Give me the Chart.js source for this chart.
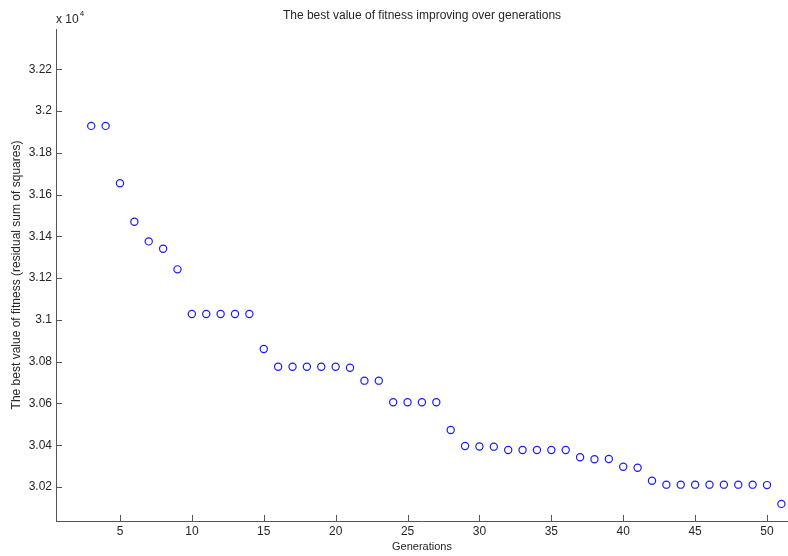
<!DOCTYPE html>
<html>
<head>
<meta charset="utf-8">
<script src="https://cdn.jsdelivr.net/npm/chart.js@4.4.0/dist/chart.umd.min.js"></script>
<style>
  html, body { margin: 0; padding: 0; background: #ffffff; }
  canvas { display: block; }
</style>
</head>
<body>
<canvas id="fitnessChart" width="788" height="556"></canvas>
<script>
// Generation index of each recorded best value
const generations = [3, 4, 5, 6, 7, 8, 9, 10, 11, 12, 13, 14, 15, 16, 17, 18, 19, 20, 21, 22, 23, 24, 25, 26, 27,
  28, 29, 30, 31, 32, 33, 34, 35, 36, 37, 38, 39, 40, 41, 42, 43, 44, 45, 46, 47, 48, 49, 50, 51];

// Best fitness (residual sum of squares) at each generation
const bestFitness = [31929, 31929, 31654, 31470, 31376, 31341, 31242, 31028, 31028, 31028, 31028, 31028,
  30861, 30776, 30776, 30776, 30776, 30776, 30771, 30709, 30709, 30606, 30606, 30606, 30606,
  30473, 30396, 30394, 30393, 30377, 30377, 30377, 30377, 30377, 30342, 30333, 30334, 30297, 30292,
  30230, 30211, 30211, 30211, 30211, 30211, 30211, 30211, 30209, 30119];

// Axis tick positions
const xTicks = [5, 10, 15, 20, 25, 30, 35, 40, 45, 50];
const yTicks = [30200, 30400, 30600, 30800, 31000, 31200, 31400, 31600, 31800, 32000, 32200];

// Axis limits
const xLimits = [0.55, 51.46];
const yLimits = [30037, 32393];

const FONT = '"Liberation Sans", Arial, Helvetica, sans-serif';
const TEXT = '#262626';
const AXIS = '#555555';

// Tick marks pointing into the plot, plus the "x 10^4" multiplier above the y axis
const innerTicks = {
  id: 'innerTicks',
  afterDraw(chart) {
    const { ctx, chartArea: a, scales: { x, y } } = chart;
    ctx.save();
    ctx.strokeStyle = AXIS;
    ctx.lineWidth = 1;
    ctx.beginPath();
    xTicks.forEach(v => {
      const px = Math.round(x.getPixelForValue(v)) + 0.5;
      ctx.moveTo(px, a.bottom);
      ctx.lineTo(px, a.bottom - 6);
    });
    yTicks.forEach(v => {
      const py = Math.round(y.getPixelForValue(v)) + 0.5;
      ctx.moveTo(a.left, py);
      ctx.lineTo(a.left + 6, py);
    });
    ctx.stroke();

    ctx.fillStyle = TEXT;
    ctx.textBaseline = 'alphabetic';
    ctx.textAlign = 'left';
    ctx.font = '12px ' + FONT;
    const base = 'x 10';
    ctx.fillText(base, a.left, 23);
    const w = ctx.measureText(base).width;
    ctx.font = '8px ' + FONT;
    ctx.fillText('4', a.left + w + 1, 16);
    ctx.restore();
  }
};

new Chart(document.getElementById('fitnessChart'), {
  type: 'scatter',
  data: {
    datasets: [{
      data: generations.map((g, i) => ({ x: g, y: bestFitness[i] })),
      pointStyle: 'circle',
      pointRadius: 3.6,
      pointHoverRadius: 3.6,
      pointBorderWidth: 1.2,
      pointBorderColor: '#1a1aff',
      pointBackgroundColor: 'rgba(0,0,0,0)',
      showLine: false,
      clip: false
    }]
  },
  plugins: [innerTicks],
  options: {
    responsive: false,
    animation: false,
    events: [],
    layout: { padding: 0, autoPadding: false },
    plugins: {
      legend: { display: false },
      tooltip: { enabled: false },
      title: {
        display: true,
        fullSize: false,
        text: 'The best value of fitness improving over generations',
        color: TEXT,
        font: { family: FONT, size: 12, weight: 'normal', lineHeight: 1.2 },
        padding: { top: 8, bottom: 6.6 }
      }
    },
    scales: {
      x: {
        type: 'linear',
        min: xLimits[0],
        max: xLimits[1],
        afterBuildTicks: s => { s.ticks = xTicks.map(v => ({ value: v })); },
        afterFit: s => { s.height = 35; s.paddingLeft = 0; s.paddingRight = 0; },
        grid: { display: false, drawTicks: false },
        border: { display: true, color: AXIS, width: 1 },
        ticks: {
          padding: 3,
          color: TEXT,
          font: { family: FONT, size: 12 },
          maxRotation: 0,
          callback: v => String(v)
        },
        title: {
          display: true,
          text: 'Generations',
          color: TEXT,
          font: { family: FONT, size: 11, lineHeight: 1.2 },
          padding: { top: 0, bottom: 2 }
        }
      },
      y: {
        type: 'linear',
        min: yLimits[0],
        max: yLimits[1],
        afterBuildTicks: s => { s.ticks = yTicks.map(v => ({ value: v })); },
        afterFit: s => { s.width = 56; s.paddingTop = 0; s.paddingBottom = 0; },
        grid: { display: false, drawTicks: false },
        border: { display: true, color: AXIS, width: 1 },
        ticks: {
          padding: 4,
          color: TEXT,
          font: { family: FONT, size: 12 },
          callback: v => String(Number((v / 10000).toFixed(2)))
        },
        title: {
          display: true,
          text: 'The best value of fitness (residual sum of squares)',
          color: TEXT,
          font: { family: FONT, size: 12, lineHeight: 1.2 },
          padding: { top: 9, bottom: 0 }
        }
      }
    }
  }
});
</script>
</body>
</html>
